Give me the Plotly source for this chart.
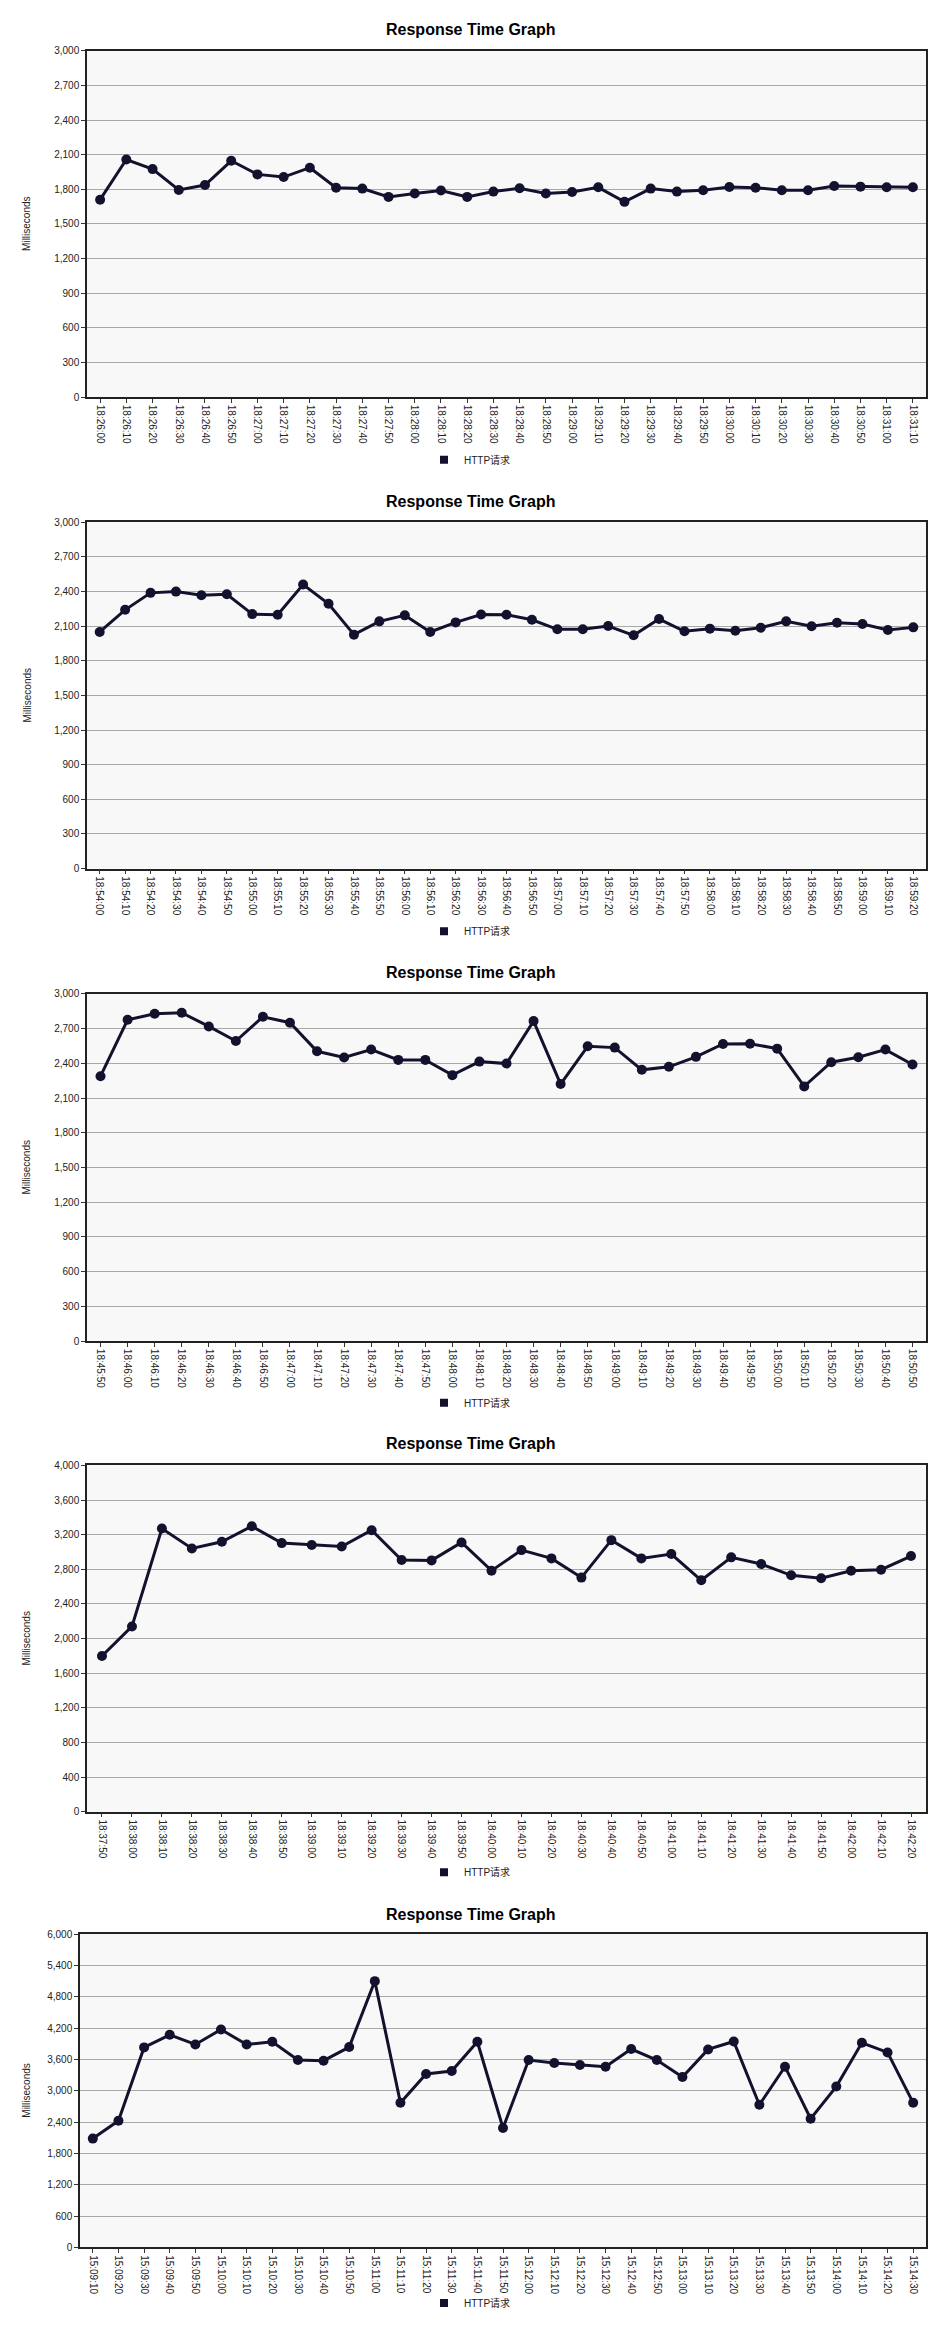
import plotly.graph_objects as go

# The page body has an 8px default margin: keep the figure inside the window
OX, OY = 8, 8
FW, FH = 939 - 2 * OX, 2336 - 2 * OY

# ---------------- data ----------------
times1 = ["18:26:00","18:26:10","18:26:20","18:26:30","18:26:40","18:26:50","18:27:00","18:27:10",
          "18:27:20","18:27:30","18:27:40","18:27:50","18:28:00","18:28:10","18:28:20","18:28:30",
          "18:28:40","18:28:50","18:29:00","18:29:10","18:29:20","18:29:30","18:29:40","18:29:50",
          "18:30:00","18:30:10","18:30:20","18:30:30","18:30:40","18:30:50","18:31:00","18:31:10"]
values1 = [1710, 2058, 1975, 1794, 1837, 2047, 1929, 1906, 1987, 1814, 1806, 1734, 1763, 1789, 1734, 1780,
           1809, 1763, 1777, 1817, 1691, 1806, 1780, 1792, 1820, 1814, 1792, 1792, 1829, 1823, 1817, 1817]

times2 = ["18:54:00","18:54:10","18:54:20","18:54:30","18:54:40","18:54:50","18:55:00","18:55:10",
          "18:55:20","18:55:30","18:55:40","18:55:50","18:56:00","18:56:10","18:56:20","18:56:30",
          "18:56:40","18:56:50","18:57:00","18:57:10","18:57:20","18:57:30","18:57:40","18:57:50",
          "18:58:00","18:58:10","18:58:20","18:58:30","18:58:40","18:58:50","18:59:00","18:59:10","18:59:20"]
values2 = [2050, 2242, 2389, 2400, 2369, 2377, 2205, 2199, 2461, 2294, 2027, 2142, 2194, 2050, 2133, 2202,
           2199, 2156, 2073, 2073, 2102, 2021, 2162, 2056, 2079, 2061, 2087, 2142, 2099, 2130, 2119, 2067, 2090]

times3 = ["18:45:50","18:46:00","18:46:10","18:46:20","18:46:30","18:46:40","18:46:50","18:47:00",
          "18:47:10","18:47:20","18:47:30","18:47:40","18:47:50","18:48:00","18:48:10","18:48:20",
          "18:48:30","18:48:40","18:48:50","18:49:00","18:49:10","18:49:20","18:49:30","18:49:40",
          "18:49:50","18:50:00","18:50:10","18:50:20","18:50:30","18:50:40","18:50:50"]
values3 = [2289, 2776, 2828, 2837, 2719, 2593, 2802, 2751, 2504, 2450, 2519, 2430, 2430, 2298, 2415, 2398,
           2765, 2221, 2547, 2536, 2344, 2370, 2456, 2567, 2570, 2527, 2201, 2410, 2453, 2519, 2390]

times4 = ["18:37:50","18:38:00","18:38:10","18:38:20","18:38:30","18:38:40","18:38:50","18:39:00",
          "18:39:10","18:39:20","18:39:30","18:39:40","18:39:50","18:40:00","18:40:10","18:40:20",
          "18:40:30","18:40:40","18:40:50","18:41:00","18:41:10","18:41:20","18:41:30","18:41:40",
          "18:41:50","18:42:00","18:42:10","18:42:20"]
values4 = [1799, 2140, 3271, 3041, 3118, 3298, 3103, 3080, 3064, 3252, 2907, 2903, 3110, 2784, 3022, 2926,
           2704, 3137, 2926, 2976, 2673, 2938, 2861, 2731, 2696, 2784, 2796, 2953]

times5 = ["15:09:10","15:09:20","15:09:30","15:09:40","15:09:50","15:10:00","15:10:10","15:10:20",
          "15:10:30","15:10:40","15:10:50","15:11:00","15:11:10","15:11:20","15:11:30","15:11:40",
          "15:11:50","15:12:00","15:12:10","15:12:20","15:12:30","15:12:40","15:12:50","15:13:00",
          "15:13:10","15:13:20","15:13:30","15:13:40","15:13:50","15:14:00","15:14:10","15:14:20","15:14:30"]
values5 = [2083, 2425, 3829, 4070, 3886, 4171, 3886, 3937, 3587, 3575, 3835, 5098, 2768, 3321, 3378, 3937,
           2286, 3587, 3530, 3492, 3460, 3797, 3587, 3263, 3790, 3943, 2730, 3460, 2463, 3079, 3917, 3733, 2768]

y_max = [3000, 3000, 3000, 4000, 6000]
y_step = [300, 300, 300, 400, 600]

series_name = "HTTP请求"
chart_title = "Response Time Graph"
y_title = "Milliseconds"

# ---------------- layout (window pixels) ----------------
# (left, right, top, bottom, title_y, legend_y)
boxes = [
    (87, 926, 45, 393, 24, 456),
    (87, 926, 519, 867, 498, 930),
    (87, 926, 993, 1342, 971, 1404),
    (87, 926, 1467, 1815, 1445, 1876),
    (80, 926, 1938, 2253, 1918, 2309),
]

def px(x):
    return (x - OX) / FW

def py(y):
    return 1 - (y - OY) / FH

LINE_COLOR = "#12122e"
FONT = "Liberation Sans, Arial, Noto Sans CJK SC, sans-serif"

all_times = [times1, times2, times3, times4, times5]
all_values = [values1, values2, values3, values4, values5]

fig = go.Figure()
layout = dict(
    width=FW, height=FH,
    margin=dict(l=0, r=0, t=0, b=0),
    paper_bgcolor="white",
    plot_bgcolor="#f8f8f8",
    font=dict(family=FONT, size=10, color="#222"),
    annotations=[],
)

for i in range(5):
    n = i + 1
    sfx = "" if n == 1 else str(n)
    l, r, t, b, ty, ly = boxes[i]
    xs, ys = all_times[i], all_values[i]
    legend_key = "legend" if n == 1 else f"legend{n}"

    fig.add_trace(go.Scatter(
        x=xs, y=ys, mode="lines+markers",
        xaxis=f"x{sfx}", yaxis=f"y{sfx}",
        line=dict(color=LINE_COLOR, width=3),
        marker=dict(color=LINE_COLOR, size=10, symbol="circle"),
        name=series_name, showlegend=False,
    ))
    # legend entry (square swatch as in the reference)
    fig.add_trace(go.Scatter(
        x=[None], y=[None], mode="markers",
        xaxis=f"x{sfx}", yaxis=f"y{sfx}",
        marker=dict(color=LINE_COLOR, size=8, symbol="square"),
        name=series_name, showlegend=True, legend=legend_key,
    ))

    layout[f"xaxis{sfx}"] = dict(
        domain=[px(l), px(r)], anchor=f"y{sfx}",
        type="category", range=[-0.5, len(xs) - 0.5],
        tickangle=90, tickfont=dict(size=10, color="#222"),
        ticks="outside", ticklen=4, tickcolor="#333",
        showgrid=False, showline=True, linecolor="#222", linewidth=1.5, mirror=True,
        zeroline=False, fixedrange=True,
    )
    layout[f"yaxis{sfx}"] = dict(
        domain=[py(b), py(t)], anchor=f"x{sfx}",
        range=[0, y_max[i]], dtick=y_step[i], tick0=0, tickformat=",d",
        tickfont=dict(size=10, color="#222"),
        ticks="outside", ticklen=4, tickcolor="#333",
        showgrid=True, gridcolor="#a8a8a8", gridwidth=1,
        showline=True, linecolor="#222", linewidth=1.5, mirror=True,
        zeroline=False, fixedrange=True,
    )
    layout[legend_key] = dict(
        x=px(470), y=py(ly), xanchor="center", yanchor="middle",
        orientation="h", bgcolor="rgba(0,0,0,0)",
        font=dict(size=10, color="#222", family=FONT),
        itemwidth=30,
    )
    layout["annotations"].append(dict(
        text=f"<b>{chart_title}</b>", x=px(471), y=py(ty), xref="paper", yref="paper",
        xanchor="center", yanchor="middle", showarrow=False,
        font=dict(size=16, color="black", family=FONT),
    ))
    layout["annotations"].append(dict(
        text=y_title, x=px(27), y=py((t + b) / 2), xref="paper", yref="paper",
        xanchor="center", yanchor="middle", showarrow=False, textangle=-90,
        font=dict(size=10, color="#222", family=FONT),
    ))

fig.update_layout(**layout)
fig.write_html("out.html")
